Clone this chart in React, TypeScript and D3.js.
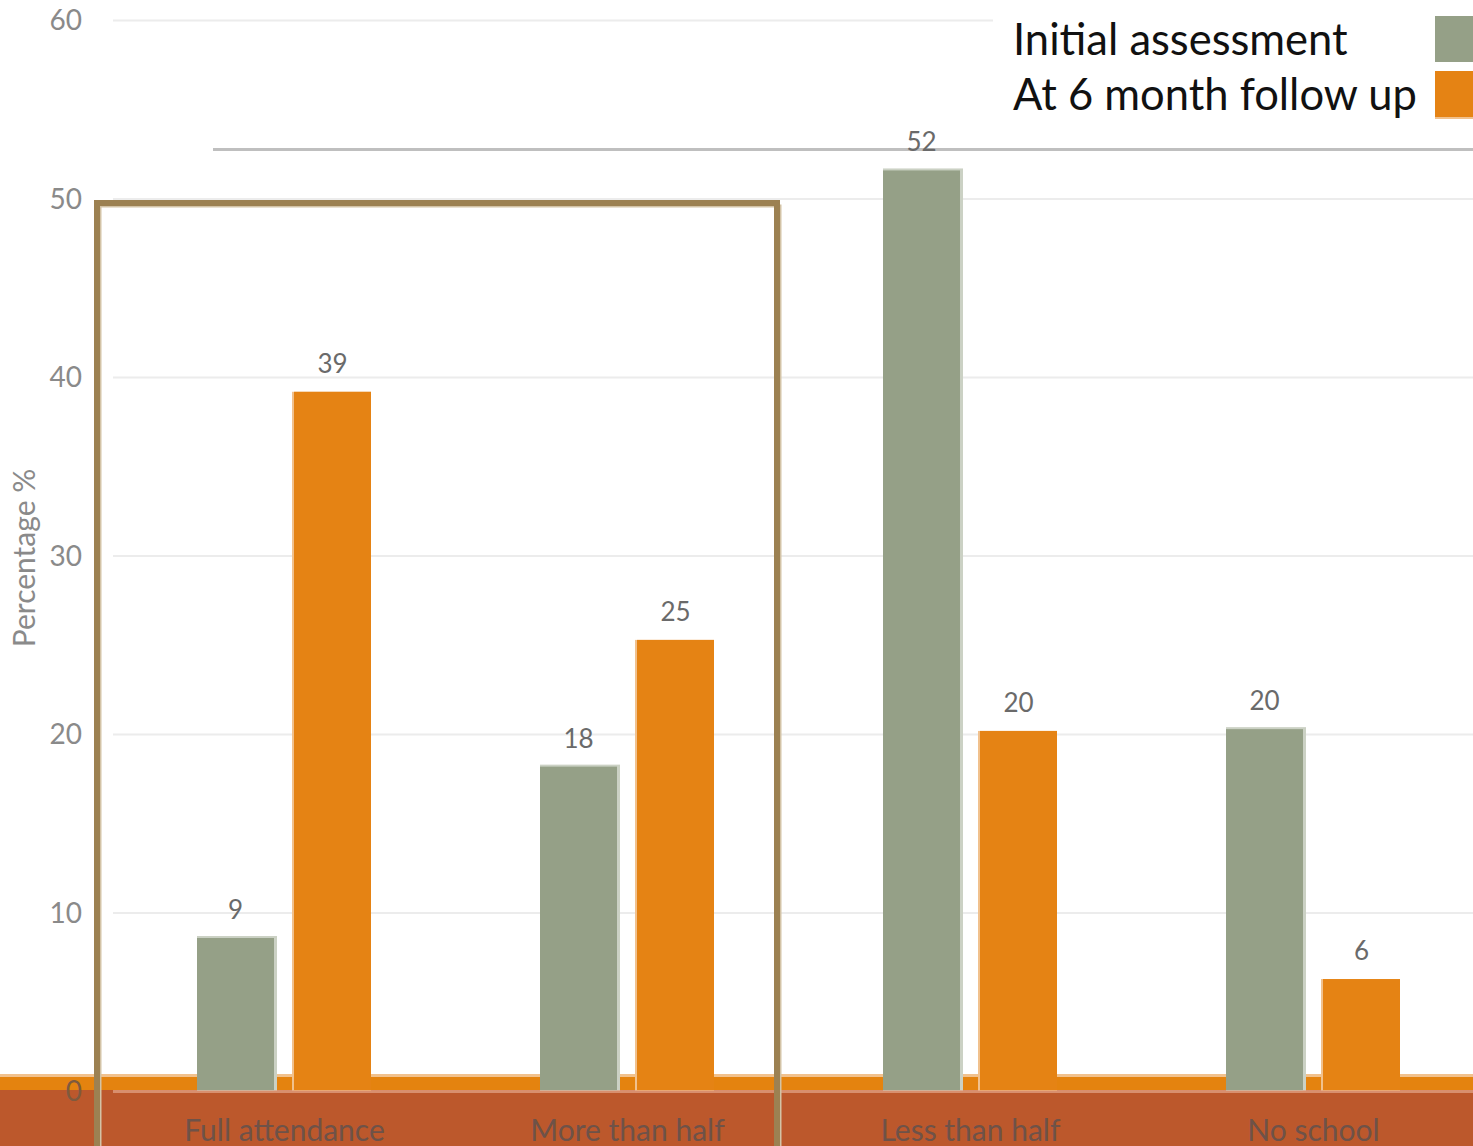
import React from "react";
import * as d3 from "d3";

const categories = ["Full attendance", "More than half", "Less than half", "No school"];
const seriesNames = ["Initial assessment", "At 6 month follow up"];
const initialValues = [8.6, 18.2, 51.6, 20.3];
const followUpValues = [39.2, 25.3, 20.2, 6.3];
const yTicks = [0, 10, 20, 30, 40, 50, 60];
const yTitle = "Percentage %";

const W = 1473;
const H = 1146;
const FONT = "Lato, 'Open Sans', sans-serif";
const GRAY = "#95a087";
const GRAY_LIGHT = "#cbd1c4";
const ORANGE = "#e58314";
const ORANGE_LIGHT = "#f1c18d";
const RED = "#bc582c";
const BROWN = "#9c8152";
const BROWN_LIGHT = "#d3c3a6";

export default function App() {
  const y = d3.scaleLinear().domain([0, 60]).range([1091.5, 20.5]);
  const x = d3.scaleBand().domain(categories).range([113, 1485]).paddingInner(0).paddingOuter(0);
  const xInner = d3.scaleBand().domain(seriesNames).range([84, 258]).paddingInner(20 / 97).paddingOuter(0);
  const bw = xInner.bandwidth();
  const fmt = d3.format(".0f");
  const colors = [GRAY, ORANGE];
  const data = [initialValues, followUpValues];

  return (
    <svg width={W} height={H} style={{ position: "absolute", left: 0, top: 0, display: "block", background: "#fff" }}>
      <rect x={0} y={0} width={W} height={H} fill="#fff" />
      {/* gridlines */}
      {yTicks.filter((t) => t > 0).map((t) => (
        <line key={t} x1={113} x2={t === 60 ? 993 : W} y1={y(t)} y2={y(t)} stroke="#ececec" strokeWidth={2} />
      ))}
      {/* gray overlay line */}
      <line x1={213} x2={W} y1={149.5} y2={149.5} stroke="#bfbfbf" strokeWidth={3} />
      {/* orange band */}
      <rect x={0} y={1074} width={W} height={3} fill={ORANGE_LIGHT} />
      <rect x={0} y={1077} width={W} height={14} fill="#e4830f" />
      {/* red band */}
      <rect x={0} y={1090} width={W} height={H - 1090} fill={RED} />
      {/* bars */}
      {categories.map((c, i) =>
        seriesNames.map((s, j) => {
          const v = data[j][i];
          const bx = (x(c) as number) + (xInner(s) as number);
          const top = y(v);
          return (
            <g key={c + s}>
              {j === 0 ? (
                <>
                  <rect x={bx} y={top - 2} width={bw + 3} height={y(0) - top + 1} fill={GRAY_LIGHT} />
                  <rect x={bx} y={top} width={bw} height={y(0) - top - 1} fill={GRAY} />
                </>
              ) : (
                <>
                  <rect x={bx - 2} y={top} width={bw + 2} height={y(0) - top - 1} fill={ORANGE_LIGHT} />
                  <rect x={bx} y={top} width={bw} height={y(0) - top - 1} fill={ORANGE} />
                </>
              )}
              <text
                x={bx + bw / 2}
                y={top - 19}
                textAnchor="middle"
                fontFamily={FONT}
                fontSize={26}
                fill="#6a6a6a"
              >
                {fmt(v)}
              </text>
            </g>
          );
        })
      )}
      {/* zero line */}
      <line x1={113} x2={W} y1={1091.5} y2={1091.5} stroke="#f3c6b0" strokeOpacity={0.5} strokeWidth={3} />
      {/* y tick labels */}
      {yTicks.map((t) => (
        <text
          key={t}
          x={82}
          y={y(t)}
          dy="0.35em"
          textAnchor="end"
          fontFamily={FONT}
          fontSize={28}
          fill={t === 0 ? "#7f5a3e" : "#8a8a8a"}
        >
          {t}
        </text>
      ))}
      {/* y title */}
      <text
        transform="translate(35,558) rotate(-90)"
        textAnchor="middle"
        fontFamily={FONT}
        fontSize={30}
        fill="#8a8a8a"
      >
        {yTitle}
      </text>
      {/* category labels */}
      {categories.map((c) => (
        <text
          key={c}
          x={(x(c) as number) + x.bandwidth() / 2}
          y={1141}
          textAnchor="middle"
          fontFamily={FONT}
          fontSize={30}
          fill="#6e5248"
        >
          {c}
        </text>
      ))}
      {/* brown box */}
      <rect x={100} y={206} width={680} height={1000} fill="none" stroke={BROWN_LIGHT} strokeWidth={3} />
      <rect x={97} y={203} width={680} height={1000} fill="none" stroke={BROWN} strokeWidth={6} />
      {/* legend */}
      {seriesNames.map((s, j) => (
        <g key={s}>
          <text x={1013} y={j === 0 ? 55 : 110} fontFamily={FONT} fontSize={43.5} fill="#111">
            {s}
          </text>
          {j === 1 && <rect x={1435} y={71} width={40} height={48} fill={ORANGE_LIGHT} />}
          <rect x={1435} y={j === 0 ? 16 : 71} width={40} height={46} fill={colors[j]} />
        </g>
      ))}
    </svg>
  );
}
